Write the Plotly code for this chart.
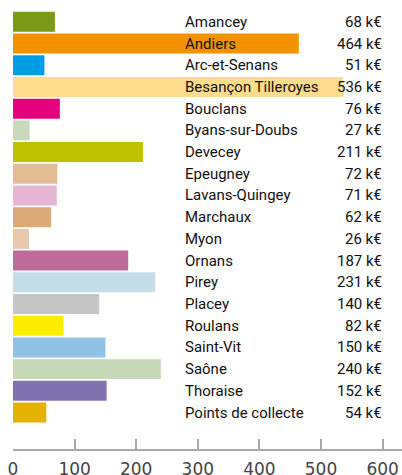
import plotly.graph_objects as go

categories = ["Amancey", "Andiers", "Arc-et-Senans", "Besançon Tilleroyes", "Bouclans",
              "Byans-sur-Doubs", "Devecey", "Epeugney", "Lavans-Quingey", "Marchaux",
              "Myon", "Ornans", "Pirey", "Placey", "Roulans", "Saint-Vit", "Saône",
              "Thoraise", "Points de collecte"]
values = [68, 464, 51, 536, 76, 27, 211, 72, 71, 62, 26, 187, 231, 140, 82, 150, 240, 152, 54]
colors = ["#7a9a15", "#f39200", "#009fe3", "#fddc8e", "#e5007d", "#c8d9bd", "#bfc200",
          "#e4bc93", "#e6b5d3", "#dcaa74", "#e9c9ae", "#c06c9b", "#c5dde6", "#c6c6c6",
          "#ffed00", "#8fc2e6", "#c5d9b8", "#8072ae", "#e5b200"]
tick_vals = [0, 100, 200, 300, 400, 500, 600]

label_font = dict(family="Roboto, Liberation Sans, sans-serif", size=15, color="#111111")

fig = go.Figure()
fig.add_trace(go.Bar(
    x=values, y=categories, orientation="h",
    marker=dict(color=colors, line=dict(width=0)),
    hoverinfo="skip",
))

for c, v in zip(categories, values):
    fig.add_annotation(x=276.5, y=c, xref="x", yref="y", text=c, showarrow=False,
                       xanchor="left", yanchor="middle", font=label_font)
    fig.add_annotation(x=601.5, y=c, xref="x", yref="y", text=f"{v} k€", showarrow=False,
                       xanchor="right", yanchor="middle", font=label_font)

fig.update_layout(
    width=402, height=475,
    margin=dict(l=13, r=0, t=11, b=26, autoexpand=False),
    paper_bgcolor="white", plot_bgcolor="white",
    bargap=0.08,
    showlegend=False,
    xaxis=dict(range=[0, 631.5], tickvals=tick_vals, ticks="inside", ticklen=10,
               tickwidth=2, tickcolor="#a8a8a8", showline=True, linecolor="#a8a8a8",
               linewidth=2, showgrid=False, zeroline=False, automargin=False,
               ticklabelstandoff=4,
               tickfont=dict(family="DejaVu Sans", size=17, color="#444444")),
    yaxis=dict(range=[19.68, -0.5], showticklabels=False, showgrid=False,
               zeroline=False, showline=False, ticks="", automargin=False),
)

fig.write_html("out.html", config={"displayModeBar": False},
               post_script="document.body.style.margin='0';document.body.style.overflow='hidden';")
